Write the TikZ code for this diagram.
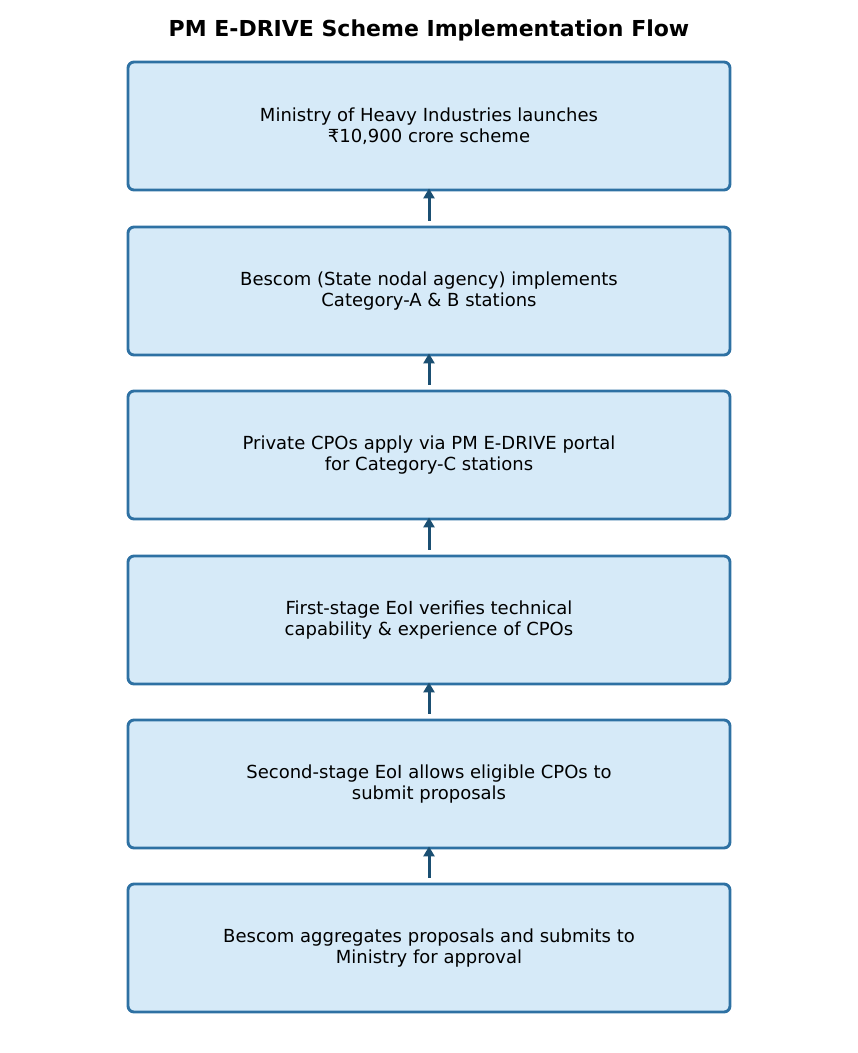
\documentclass[tikz,border=0pt]{standalone}
\usepackage{fontspec}
\setmainfont{DejaVu Sans}
\usetikzlibrary{arrows.meta}
\definecolor{boxfill}{HTML}{D6EAF8}
\definecolor{boxedge}{HTML}{2E71A3}
\definecolor{arrcol}{HTML}{1B4F72}
\tikzset{
  stepbox/.style={draw=boxedge, fill=boxfill, line width=2.9pt, rounded corners=6pt,
    minimum width=602pt, minimum height=128pt, inner sep=0pt, align=center,
    font=\fontsize{18}{21.5}\selectfont},
  flowarr/.style={draw=arrcol, line width=3pt, -{Triangle[length=10pt,width=11pt]}}
}
\begin{document}
\begin{tikzpicture}[x=1pt,y=-1pt]
\useasboundingbox (0,0) rectangle (858,1053);
\node[font=\fontsize{22}{26}\selectfont\bfseries] (title) at (429,30) {PM E-DRIVE Scheme Implementation Flow};
\node[stepbox] (b1) at (429,126) {Ministry of Heavy Industries launches\\₹10,900 crore scheme};
\node[stepbox] (b2) at (429,291) {Bescom (State nodal agency) implements\\Category-A \& B stations};
\node[stepbox] (b3) at (429,455) {Private CPOs apply via PM E-DRIVE portal\\for Category-C stations};
\node[stepbox] (b4) at (429,620) {First-stage EoI verifies technical\\capability \& experience of CPOs};
\node[stepbox] (b5) at (429,784) {Second-stage EoI allows eligible CPOs to\\submit proposals};
\node[stepbox] (b6) at (429,948) {Bescom aggregates proposals and submits to\\Ministry for approval};
\draw[flowarr] ([yshift=5pt]b2.north) -- ([yshift=3pt]b1.south);
\draw[flowarr] ([yshift=5pt]b3.north) -- ([yshift=3pt]b2.south);
\draw[flowarr] ([yshift=5pt]b4.north) -- ([yshift=3pt]b3.south);
\draw[flowarr] ([yshift=5pt]b5.north) -- ([yshift=3pt]b4.south);
\draw[flowarr] ([yshift=5pt]b6.north) -- ([yshift=3pt]b5.south);
\end{tikzpicture}
\end{document}
